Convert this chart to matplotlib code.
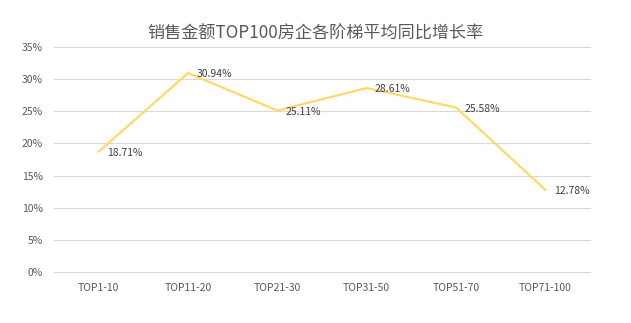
import matplotlib.pyplot as plt
from matplotlib.ticker import FuncFormatter

plt.rcParams['font.family'] = ['Noto Sans CJK SC', 'DejaVu Sans']

# Data
tiers = ['TOP1-10', 'TOP11-20', 'TOP21-30', 'TOP31-50', 'TOP51-70', 'TOP71-100']
growth = [18.71, 30.94, 25.11, 28.61, 25.58, 12.78]
y_ticks = [0, 5, 10, 15, 20, 25, 30, 35]

fig = plt.figure(figsize=(6.31, 3.23), dpi=100)
ax = fig.add_axes([0.0856, 0.158, 0.8494, 0.6966])

x = range(len(tiers))
ax.plot(x, growth, color='#FFD966', linewidth=1.6, solid_joinstyle='miter', zorder=3)

# Value labels to the right of each point
for xi, v in zip(x, growth):
    ax.annotate(f'{v:.2f}%', (xi, v), xytext=(6, -1), textcoords='offset points',
                ha='left', va='center', fontsize=7.5, color='#404040')

ax.set_xlim(-0.5, len(tiers) - 0.5)
ax.set_ylim(0, 35)
ax.set_xticks(list(x))
ax.set_xticklabels(tiers)
ax.set_yticks(y_ticks)
ax.yaxis.set_major_formatter(FuncFormatter(lambda v, p: f'{int(v)}%'))

# horizontal gridlines, including the 0% baseline
for yv in y_ticks:
    ax.axhline(yv, color='#D9D9D9', linewidth=0.8, clip_on=False, zorder=1)
for s in ax.spines.values():
    s.set_visible(False)
ax.tick_params(axis='both', length=0, labelsize=7.5, colors='#595959')
ax.tick_params(axis='x', pad=8)
ax.tick_params(axis='y', pad=8)

fig.text(0.5, 0.895, '销售金额TOP100房企各阶梯平均同比增长率', ha='center', va='center',
         fontsize=12.3, color='#595959', fontweight='light')

plt.savefig('out.png', dpi=100)
